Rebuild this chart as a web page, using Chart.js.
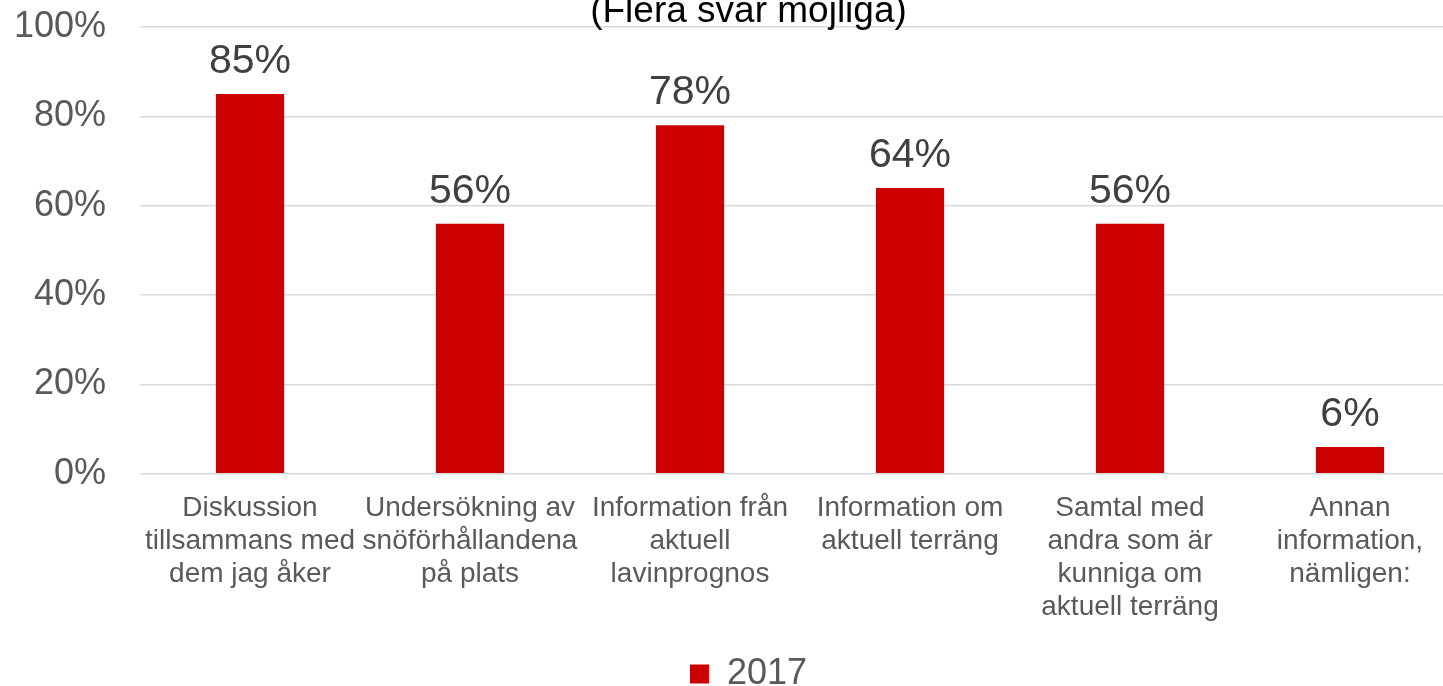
<!DOCTYPE html>
<html>
<head>
<meta charset="utf-8">
<script src="https://cdn.jsdelivr.net/npm/chart.js@4.4.1/dist/chart.umd.min.js"></script>
<style>
  html, body { margin: 0; padding: 0; background: #fff; }
  #wrap { position: relative; width: 1443px; height: 686px; overflow: hidden; }
  #box { position: absolute; left: 0; top: -40px; width: 1498px; height: 742px; }
</style>
</head>
<body>
<div id="wrap">
  <div id="box"><canvas id="chart"></canvas></div>
</div>
<script>
Chart.defaults.font.family = "'Liberation Sans', Arial, sans-serif";

const categories = [
  ["Diskussion", "tillsammans med", "dem jag åker"],
  ["Undersökning av", "snöförhållandena", "på plats"],
  ["Information från", "aktuell", "lavinprognos"],
  ["Information om", "aktuell terräng"],
  ["Samtal med", "andra som är", "kunniga om", "aktuell terräng"],
  ["Annan", "information,", "nämligen:"],
];
const values2017 = [85, 56, 78, 64, 56, 6];
const yTicks = [0, 20, 40, 60, 80, 100];

// värden ovanför staplarna
const barLabels = {
  id: "barLabels",
  afterDatasetsDraw(chart) {
    const ctx = chart.ctx;
    ctx.save();
    ctx.font = "41px 'Liberation Sans', Arial, sans-serif";
    ctx.fillStyle = "#404040";
    ctx.textAlign = "center";
    ctx.textBaseline = "alphabetic";
    chart.getDatasetMeta(0).data.forEach((bar, i) => {
      ctx.fillText(values2017[i] + "%", bar.x, bar.y - 21);
    });
    ctx.restore();
  },
};

// titel och förklaring centreras på hela bilden, inte bara diagramytan
const centerShift = {
  id: "centerShift",
  afterLayout(chart) {
    [chart.titleBlock, chart.legend].forEach((b) => {
      b.left += 11;
      b.right += 11;
    });
  },
};

const ctx = document.getElementById("chart").getContext("2d");
new Chart(ctx, {
  type: "bar",
  data: {
    labels: categories,
    datasets: [
      {
        label: "2017",
        data: values2017,
        backgroundColor: "#cc0000",
        categoryPercentage: 1,
        barPercentage: 0.31,
      },
    ],
  },
  options: {
    responsive: true,
    maintainAspectRatio: false,
    animation: false,
    layout: {
      padding: { left: 15, right: 38, top: 0, bottom: 0 },
    },
    plugins: {
      title: {
        display: true,
        text: "(Flera svar möjliga)",
        color: "#000000",
        font: { size: 37, weight: "normal", lineHeight: 0.84 },
        padding: { top: 36, bottom: 0 },
      },
      legend: {
        position: "bottom",
        labels: {
          color: "#595959",
          font: { size: 36 },
          boxWidth: 19,
          boxHeight: 19,
          padding: 10,
        },
      },
      tooltip: { enabled: false },
    },
    scales: {
      y: {
        min: 0,
        max: 100,
        afterBuildTicks(axis) {
          axis.ticks = yTicks.map((v) => ({ value: v }));
        },
        afterFit(axis) {
          axis.width = 125;
        },
        ticks: {
          color: "#595959",
          font: { size: 36 },
          padding: 34,
          callback: (v) => v + "%",
        },
        grid: {
          color: "#d9d9d9",
          lineWidth: 1.5,
          drawTicks: false,
        },
        border: { display: false },
      },
      x: {
        afterFit(axis) {
          axis.paddingLeft = 0;
          axis.paddingRight = 0;
          axis.height += 4;
        },
        ticks: {
          color: "#595959",
          font: { size: 28, lineHeight: 1.18 },
          padding: 18,
          maxRotation: 0,
          autoSkip: false,
        },
        grid: { display: false, drawTicks: false },
        border: { display: false },
      },
    },
  },
  plugins: [barLabels, centerShift],
});
</script>
</body>
</html>
